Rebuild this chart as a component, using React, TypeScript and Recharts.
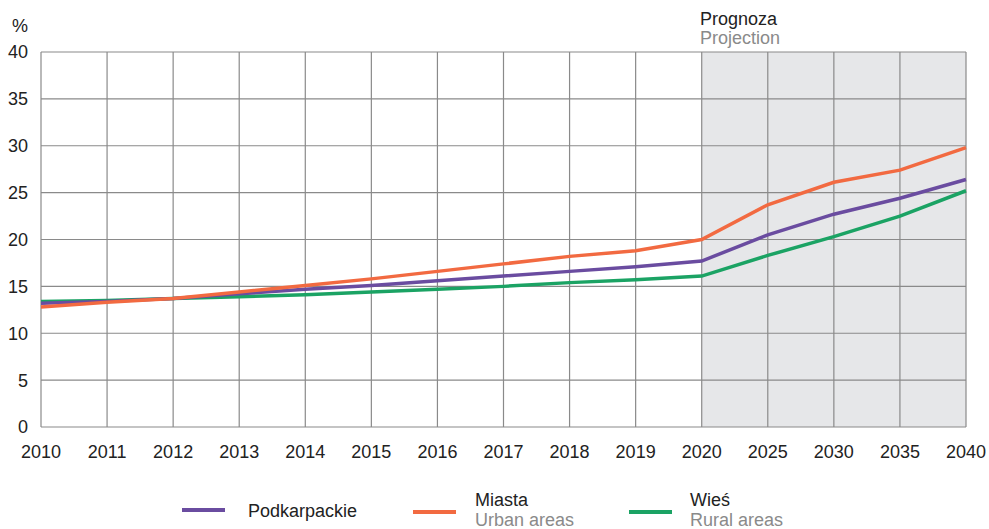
import { LineChart, Line, XAxis, YAxis, CartesianGrid } from 'recharts';

const years = ['2010', '2011', '2012', '2013', '2014', '2015', '2016', '2017', '2018', '2019', '2020', '2025', '2030', '2035', '2040'];
const podkarpackie = [13.2, 13.4, 13.7, 14.2, 14.7, 15.1, 15.6, 16.1, 16.6, 17.1, 17.7, 20.5, 22.7, 24.4, 26.4];
const miasta = [12.8, 13.3, 13.7, 14.4, 15.1, 15.8, 16.6, 17.4, 18.2, 18.8, 20.0, 23.7, 26.1, 27.4, 29.8];
const wies = [13.4, 13.5, 13.7, 13.9, 14.1, 14.4, 14.7, 15.0, 15.4, 15.7, 16.1, 18.3, 20.3, 22.5, 25.2];
const yTicks = [0, 5, 10, 15, 20, 25, 30, 35, 40];
// projection years (2020 onward) get a grey band
const projectionStart = '2020';

const data = years.map((year, i) => ({
  year,
  podkarpackie: podkarpackie[i],
  miasta: miasta[i],
  wies: wies[i],
}));

const FONT = 'Arial, "Liberation Sans", Helvetica, sans-serif';
const PURPLE = '#6a4ca0';
const ORANGE = '#f26a41';
const GREEN = '#1ba364';
const GRID = '#8a8a8a';
const SHADE = '#e6e7e9';

// stripes between vertical grid lines: white before 2020, grey after
const startIdx = years.indexOf(projectionStart);
const stripes = years.slice(0, -1).map((_, i) => (i >= startIdx ? SHADE : '#ffffff'));

const tickStyle = { fontSize: 18, fill: '#222', fontFamily: FONT };

export default function App() {
  return (
    <div style={{ position: 'relative', width: 989, height: 529, background: '#fff', fontFamily: FONT }}>
      <style>{'body{margin:0}'}</style>
      <LineChart width={989} height={529} data={data} margin={{ top: 52, right: 23, left: 0, bottom: 72 }}>
        <CartesianGrid stroke={GRID} strokeWidth={1.2} verticalFill={stripes} fillOpacity={1} />
        <XAxis
          dataKey="year"
          interval={0}
          axisLine={false}
          tickLine={false}
          tickMargin={12}
          height={30}
          tick={tickStyle}
        />
        <YAxis
          domain={[0, 40]}
          ticks={yTicks}
          axisLine={false}
          tickLine={false}
          tickMargin={7}
          width={41}
          tick={tickStyle}
        />
        <Line type="linear" dataKey="wies" stroke={GREEN} strokeWidth={3.5} dot={false} isAnimationActive={false} />
        <Line type="linear" dataKey="podkarpackie" stroke={PURPLE} strokeWidth={3.5} dot={false} isAnimationActive={false} />
        <Line type="linear" dataKey="miasta" stroke={ORANGE} strokeWidth={3.5} dot={false} isAnimationActive={false} />
      </LineChart>

      {/* unit + forecast labels */}
      <div style={{ position: 'absolute', left: 12, top: 16, fontSize: 18, color: '#222' }}>%</div>
      <div style={{ position: 'absolute', left: 700, top: 11, fontSize: 18, lineHeight: '17px', color: '#222' }}>Prognoza</div>
      <div style={{ position: 'absolute', left: 700, top: 30, fontSize: 18, lineHeight: '17px', color: '#8a8a8a' }}>Projection</div>

      {/* legend */}
      <div style={{ position: 'absolute', left: 182, top: 508, width: 43, height: 4, background: PURPLE }} />
      <div style={{ position: 'absolute', left: 248, top: 501, fontSize: 18, lineHeight: '20px', color: '#222' }}>Podkarpackie</div>

      <div style={{ position: 'absolute', left: 413, top: 510, width: 43, height: 4, background: ORANGE }} />
      <div style={{ position: 'absolute', left: 475, top: 490, fontSize: 18, lineHeight: '20px', color: '#222' }}>Miasta</div>
      <div style={{ position: 'absolute', left: 475, top: 510, fontSize: 18, lineHeight: '20px', color: '#8a8a8a' }}>Urban areas</div>

      <div style={{ position: 'absolute', left: 629, top: 510, width: 43, height: 4, background: GREEN }} />
      <div style={{ position: 'absolute', left: 690, top: 490, fontSize: 18, lineHeight: '20px', color: '#222' }}>Wieś</div>
      <div style={{ position: 'absolute', left: 690, top: 510, fontSize: 18, lineHeight: '20px', color: '#8a8a8a' }}>Rural areas</div>
    </div>
  );
}
